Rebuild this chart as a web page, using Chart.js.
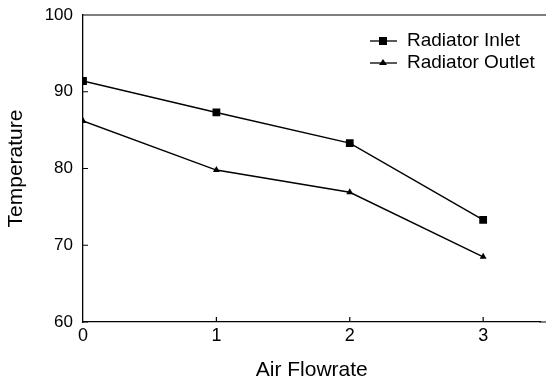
<!DOCTYPE html>
<html>
<head>
<meta charset="utf-8">
<script src="https://cdn.jsdelivr.net/npm/chart.js@4"></script>
<style>
  html, body { margin: 0; padding: 0; background: #fff; }
  #wrap { width: 546px; height: 383px; }
</style>
</head>
<body>
<div id="wrap"><canvas id="chart" width="546" height="383"></canvas></div>
<script>
// 데이터
const airFlowrate = [0, 1, 2, 3];
const radiatorInlet = [91.4, 87.3, 83.3, 73.3];
const radiatorOutlet = [86.2, 79.8, 76.9, 68.5];
const yTicks = [60, 70, 80, 90, 100];
const seriesNames = ['Radiator Inlet', 'Radiator Outlet'];

const FONT = '"Liberation Sans", Arial, sans-serif';

function toPoints(xs, ys) {
    return xs.map((x, i) => ({ x: x, y: ys[i] }));
}

// 안쪽 눈금, 위/아래 테두리, 범례
const framePlugin = {
    id: 'frame',
    afterDraw(chart) {
        const ctx = chart.ctx;
        const a = chart.chartArea;
        const xs = chart.scales.x;
        const ys = chart.scales.y;
        ctx.save();
        ctx.strokeStyle = '#000';
        ctx.lineWidth = 1.2;
        ctx.beginPath();
        // 테두리는 그림 오른쪽 끝까지 잘려 나간다
        ctx.moveTo(a.left, a.top);
        ctx.lineTo(chart.width, a.top);
        ctx.moveTo(a.right - 1, a.bottom);
        ctx.lineTo(chart.width, a.bottom);
        yTicks.forEach(v => {
            const py = ys.getPixelForValue(v);
            ctx.moveTo(a.left, py);
            ctx.lineTo(a.left + 5, py);
        });
        airFlowrate.forEach(v => {
            if (v === 0) return;
            const px = xs.getPixelForValue(v);
            ctx.moveTo(px, a.bottom);
            ctx.lineTo(px, a.bottom - 5);
        });
        ctx.stroke();

        // 범례
        const lx = 370, ly = [41, 63];
        chart.data.datasets.forEach((ds, i) => {
            const y = ly[i];
            ctx.beginPath();
            ctx.lineWidth = 1.3;
            ctx.moveTo(lx, y);
            ctx.lineTo(lx + 27, y);
            ctx.stroke();
            ctx.fillStyle = '#000';
            const cx = lx + 13;
            if (i === 0) {
                ctx.fillRect(cx - 4, y - 4, 8, 8);
            } else {
                ctx.beginPath();
                ctx.moveTo(cx, y - 4);
                ctx.lineTo(cx + 4, y + 2);
                ctx.lineTo(cx - 4, y + 2);
                ctx.closePath();
                ctx.fill();
            }
            ctx.font = '19px ' + FONT;
            ctx.textBaseline = 'middle';
            ctx.fillText(ds.label, lx + 37, y);
        });
        ctx.restore();
    }
};

const chart = new Chart(document.getElementById('chart').getContext('2d'), {
    type: 'line',
    data: {
        datasets: [
            {
                label: seriesNames[0],
                data: toPoints(airFlowrate, radiatorInlet),
                borderColor: '#000',
                backgroundColor: '#000',
                borderWidth: 1.4,
                pointStyle: 'rect',
                pointRadius: 5.5,
                pointBorderWidth: 0,
                tension: 0
            },
            {
                label: seriesNames[1],
                data: toPoints(airFlowrate, radiatorOutlet),
                borderColor: '#000',
                backgroundColor: '#000',
                borderWidth: 1.4,
                pointStyle: 'triangle',
                pointRadius: 4,
                pointBorderWidth: 0,
                tension: 0
            }
        ]
    },
    options: {
        responsive: false,
        animation: false,
        layout: { padding: { top: 15, right: 0, left: 0, bottom: 0 } },
        plugins: {
            legend: { display: false },
            tooltip: { enabled: false }
        },
        scales: {
            x: {
                type: 'linear',
                min: 0,
                max: 3.43,
                afterBuildTicks: (s) => { s.ticks = airFlowrate.map(v => ({ value: v })); },
                afterFit: (s) => { s.height = 61; },
                grid: { display: false, drawTicks: false },
                border: { color: '#000', width: 1.3 },
                ticks: {
                    color: '#000',
                    padding: 3,
                    maxRotation: 0,
                    font: { family: FONT, size: 18 }
                },
                title: {
                    display: true,
                    text: 'Air Flowrate',
                    color: '#000',
                    padding: { top: 4, bottom: 0 },
                    font: { family: FONT, size: 21 }
                }
            },
            y: {
                min: 60,
                max: 100,
                afterBuildTicks: (s) => { s.ticks = yTicks.map(v => ({ value: v })); },
                afterFit: (s) => { s.width = 83; s.paddingTop = 0; s.paddingBottom = 0; },
                grid: { display: false, drawTicks: false },
                border: { color: '#000', width: 1.3 },
                ticks: {
                    color: '#000',
                    padding: 10,
                    font: { family: FONT, size: 17 }
                },
                title: {
                    display: true,
                    text: 'Temperature',
                    color: '#000',
                    padding: { top: 4, bottom: 0 },
                    font: { family: FONT, size: 21 }
                }
            }
        }
    },
    plugins: [framePlugin]
});
</script>
</body>
</html>
